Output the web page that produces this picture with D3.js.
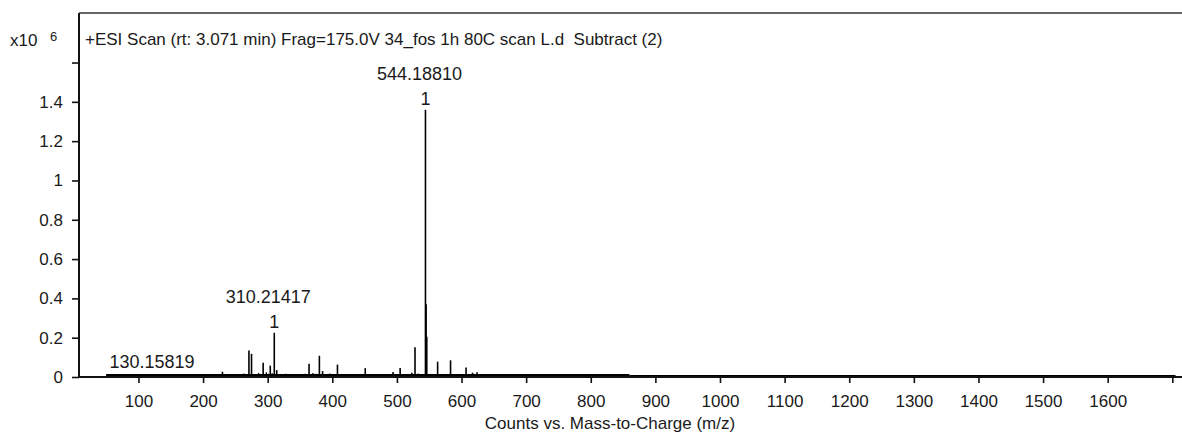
<!DOCTYPE html>
<html lang="en">
<head>
    <meta charset="UTF-8">
    <title>ESI Scan</title>
    <script src="https://d3js.org/d3.v7.min.js"></script>
    <style>
        body {
            margin: 0;
            background: #fff;
            font-family: "Liberation Sans", Arial, sans-serif;
        }
        text {
            fill: #1a1a1a;
            white-space: pre;
        }
    </style>
</head>
<body>
    <div id="container"></div>

    <script>
        // labelled peaks (m/z, counts x10^6)
        const peakMz  = [130.15819, 230, 271, 275, 293, 304, 310.21417, 314, 364, 380, 385, 408, 451, 494, 505, 523, 528, 544.18810, 545.19, 546.2, 563, 583, 607, 617, 624];
        const peakInt = [0.012, 0.027, 0.135, 0.118, 0.072, 0.058, 0.225, 0.035, 0.068, 0.108, 0.03, 0.063, 0.045, 0.026, 0.046, 0.022, 0.152, 1.36, 0.37, 0.205, 0.078, 0.085, 0.048, 0.022, 0.024];

        // labels shown above peaks
        const labelMz     = [130.15819, 310.21417, 544.18810];
        const labelText   = ['130.15819', '310.21417', '544.18810'];
        const labelCharge = ['', '1', '1'];

        // baseline noise
        const noiseMz  = [52, 58, 63, 71, 77, 84, 90, 97, 104, 111, 118, 124, 137, 143, 150, 157, 163, 171, 178, 184, 191, 198, 205, 212, 218, 226, 233, 239, 246, 253, 258, 263, 268, 281, 286, 290, 298, 301, 307, 318, 323, 328, 334, 340, 346, 352, 358, 370, 375, 391, 396, 402, 413, 419, 425, 431, 437, 443, 456, 462, 468, 474, 480, 486, 490, 500, 511, 517, 533, 538, 552, 557, 569, 576, 590, 596, 612, 630, 637, 645, 652, 661, 668, 676, 683, 691, 699, 706, 714, 722, 731, 739, 748, 756, 765, 773, 782, 790, 799, 808, 816, 825, 834, 842, 851, 858, 872, 889, 903, 918, 934, 951, 966, 982, 997, 1013, 1029, 1046, 1061, 1078, 1094, 1110, 1127, 1143, 1158, 1175, 1191, 1208, 1224, 1240, 1257, 1273, 1289, 1306, 1322, 1339, 1355, 1371, 1388, 1404, 1420, 1437, 1453, 1470, 1486, 1502, 1519, 1535, 1551, 1568, 1584, 1600, 1617, 1633, 1649, 1666, 1682, 1698];
        const noiseInt = [0.006, 0.004, 0.008, 0.005, 0.007, 0.006, 0.009, 0.005, 0.008, 0.006, 0.007, 0.01, 0.006, 0.008, 0.005, 0.009, 0.006, 0.007, 0.011, 0.006, 0.009, 0.008, 0.012, 0.007, 0.01, 0.009, 0.014, 0.008, 0.011, 0.013, 0.01, 0.018, 0.012, 0.015, 0.02, 0.013, 0.024, 0.016, 0.019, 0.014, 0.012, 0.016, 0.013, 0.015, 0.011, 0.014, 0.017, 0.02, 0.016, 0.013, 0.018, 0.012, 0.015, 0.011, 0.013, 0.01, 0.012, 0.014, 0.011, 0.009, 0.012, 0.01, 0.013, 0.011, 0.012, 0.015, 0.012, 0.01, 0.018, 0.014, 0.016, 0.012, 0.013, 0.011, 0.012, 0.014, 0.01, 0.011, 0.009, 0.012, 0.008, 0.01, 0.009, 0.011, 0.008, 0.012, 0.009, 0.013, 0.008, 0.01, 0.009, 0.008, 0.011, 0.007, 0.009, 0.008, 0.01, 0.007, 0.009, 0.008, 0.007, 0.009, 0.008, 0.006, 0.008, 0.007, 0.006, 0.007, 0.005, 0.006, 0.007, 0.005, 0.006, 0.005, 0.007, 0.005, 0.006, 0.005, 0.006, 0.004, 0.006, 0.005, 0.006, 0.004, 0.005, 0.006, 0.004, 0.005, 0.006, 0.004, 0.005, 0.004, 0.006, 0.005, 0.004, 0.006, 0.005, 0.004, 0.005, 0.006, 0.004, 0.005, 0.004, 0.006, 0.005, 0.004, 0.005, 0.006, 0.004, 0.005, 0.004, 0.005, 0.006, 0.004, 0.005, 0.004, 0.005, 0.004];

        // continuum under the sticks
        const baseMz    = [50, 860, 1705];
        const baseLevel = [0.007, 0.005];

        const xTicks = [100, 200, 300, 400, 500, 600, 700, 800, 900, 1000, 1100, 1200, 1300, 1400, 1500, 1600, 1700];
        const yTicks = [0, 0.2, 0.4, 0.6, 0.8, 1, 1.2, 1.4, 1.6];

        const titleText = '+ESI Scan (rt: 3.071 min) Frag=175.0V 34_fos 1h 80C scan L.d  Subtract (2)';
        const xTitle = 'Counts vs. Mass-to-Charge (m/z)';

        const width = 1182, height = 434;
        const plotLeft = 79, plotTop = 13, plotBottom = 377;

        const svg = d3.select('#container').append('svg')
            .attr('width', width)
            .attr('height', height);

        const x = d3.scaleLinear().domain([8, 1715]).range([plotLeft, width]);
        const y = d3.scaleLinear().domain([0, 1.852]).range([plotBottom, plotTop]);

        // y axis
        const yAxis = svg.append('g')
            .attr('transform', `translate(${plotLeft},0)`)
            .call(d3.axisLeft(y)
                .tickValues(yTicks)
                .tickSize(7)
                .tickSizeOuter(0)
                .tickPadding(9)
                .tickFormat(d => d === 1.6 ? '' : d3.format('~g')(d)));
        yAxis.select('.domain').remove();
        yAxis.selectAll('line').attr('stroke', '#111').attr('stroke-width', 1.6);
        yAxis.selectAll('text').style('font-size', '17px').style('font-family', '"Liberation Sans", Arial, sans-serif');

        // x axis
        const xAxis = svg.append('g')
            .attr('transform', `translate(0,${plotBottom})`)
            .call(d3.axisBottom(x)
                .tickValues(xTicks)
                .tickSize(6)
                .tickSizeOuter(0)
                .tickPadding(12)
                .tickFormat(d => d === 1700 ? '' : d));
        xAxis.select('.domain').remove();
        xAxis.selectAll('line').attr('stroke', '#111').attr('stroke-width', 1.6);
        xAxis.selectAll('text').style('font-size', '17px').style('font-family', '"Liberation Sans", Arial, sans-serif');

        // continuum
        svg.selectAll('.base')
            .data(baseLevel)
            .enter()
            .append('line')
            .attr('x1', (d, i) => x(baseMz[i]))
            .attr('x2', (d, i) => x(baseMz[i + 1]))
            .attr('y1', d => y(d))
            .attr('y2', d => y(d))
            .attr('stroke', '#000')
            .attr('stroke-width', (d, i) => i === 0 ? 3 : 2.2);

        // noise sticks
        svg.selectAll('.noise')
            .data(noiseMz)
            .enter()
            .append('line')
            .attr('x1', d => x(d))
            .attr('x2', d => x(d))
            .attr('y1', y(0))
            .attr('y2', (d, i) => y(noiseInt[i]))
            .attr('stroke', '#000')
            .attr('stroke-width', 1.3);

        // peaks
        svg.selectAll('.peak')
            .data(peakMz)
            .enter()
            .append('line')
            .attr('x1', d => x(d))
            .attr('x2', d => x(d))
            .attr('y1', y(0))
            .attr('y2', (d, i) => y(peakInt[i]))
            .attr('stroke', '#000')
            .attr('stroke-width', 1.6);

        // frame
        svg.append('line')
            .attr('x1', plotLeft).attr('x2', plotLeft)
            .attr('y1', plotTop).attr('y2', plotBottom + 1)
            .attr('stroke', '#111').attr('stroke-width', 2);
        svg.append('line')
            .attr('x1', plotLeft).attr('x2', width)
            .attr('y1', plotBottom).attr('y2', plotBottom)
            .attr('stroke', '#111').attr('stroke-width', 2);
        svg.append('line')
            .attr('x1', plotLeft).attr('x2', width)
            .attr('y1', plotTop).attr('y2', plotTop)
            .attr('stroke', '#333').attr('stroke-width', 1.5);

        // peak labels
        labelMz.forEach((mz, i) => {
            const h = peakInt[peakMz.indexOf(mz)];
            const yTop = y(h);
            const hasCharge = labelCharge[i] !== '';
            if (hasCharge) {
                svg.append('text')
                    .attr('x', x(mz))
                    .attr('y', yTop - 5)
                    .attr('text-anchor', 'middle')
                    .style('font-size', '18px')
                    .text(labelCharge[i]);
            }
            svg.append('text')
                .attr('x', x(mz) - 6)
                .attr('y', hasCharge ? yTop - 30 : yTop - 7)
                .attr('text-anchor', 'middle')
                .style('font-size', '18px')
                .text(labelText[i]);
        });

        // title and multiplier
        svg.append('text')
            .attr('x', 85).attr('y', 45)
            .style('font-size', '17px')
            .text(titleText);
        svg.append('text')
            .attr('x', 10).attr('y', 46)
            .style('font-size', '17px')
            .text('x10');
        svg.append('text')
            .attr('x', 50).attr('y', 41)
            .style('font-size', '13px')
            .text('6');

        // x axis title
        svg.append('text')
            .attr('x', 610).attr('y', 429)
            .attr('text-anchor', 'middle')
            .style('font-size', '17px')
            .text(xTitle);
    </script>
</body>
</html>
